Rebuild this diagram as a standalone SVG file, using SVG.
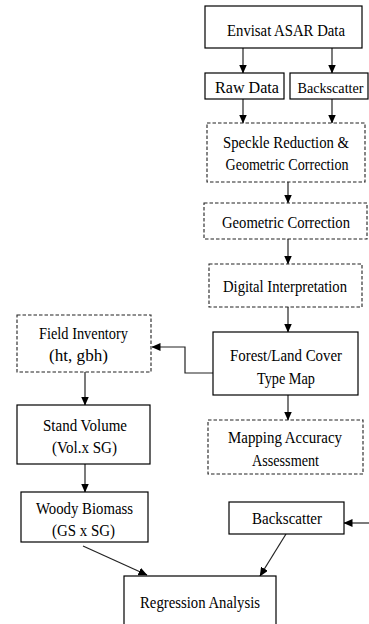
<svg xmlns="http://www.w3.org/2000/svg" width="369" height="624" viewBox="0 0 369 624">
<style>
.box{fill:#fff;stroke:#000;stroke-width:1.2}
.dash{fill:#fff;stroke:#222;stroke-width:1.1;stroke-dasharray:3.5 2}
text{font-family:"Liberation Serif","Times New Roman",serif;font-size:16.5px;fill:#000;text-anchor:middle}
.c{fill:none;stroke:#222;stroke-width:1.2;marker-end:url(#ah)}
</style>
<defs>
<marker id="ah" markerUnits="userSpaceOnUse" markerWidth="9" markerHeight="8" refX="8.5" refY="4" orient="auto">
<path d="M0,0 L9,4 L0,8 Z" fill="#000"/>
</marker>
</defs>
<rect x="0" y="0" width="369" height="624" fill="#fff"/>
<g id="connectors">
<line class="c" x1="243" y1="48" x2="243" y2="73"/>
<line class="c" x1="332" y1="48" x2="332" y2="73"/>
<line class="c" x1="243" y1="99" x2="243" y2="123"/>
<line class="c" x1="332" y1="99" x2="332" y2="123"/>
<line class="c" x1="288" y1="182" x2="288" y2="203"/>
<line class="c" x1="288" y1="239" x2="288" y2="264"/>
<line class="c" x1="288" y1="307" x2="288" y2="332"/>
<polyline class="c" points="213,373 185,373 185,347 152,347"/>
<line class="c" x1="85" y1="372" x2="85" y2="405"/>
<line class="c" x1="288" y1="395" x2="288" y2="420"/>
<line class="c" x1="85" y1="464" x2="85" y2="492"/>
<line class="c" x1="83" y1="546" x2="147" y2="575"/>
<line class="c" x1="286" y1="534" x2="260" y2="576"/>
<line class="c" x1="369" y1="523" x2="344" y2="523"/>
</g>
<g id="envisat">
<rect class="box" x="205" y="6" width="157" height="42"/>
<text x="286" y="36" textLength="118" lengthAdjust="spacingAndGlyphs">Envisat ASAR Data</text>
</g>
<g id="raw">
<rect class="box" x="205" y="73" width="79" height="26"/>
<text x="247" y="93" textLength="64" lengthAdjust="spacingAndGlyphs">Raw Data</text>
</g>
<g id="backscatter1">
<rect class="box" x="290" y="73" width="78" height="26"/>
<text x="330.5" y="93" textLength="66" lengthAdjust="spacingAndGlyphs" style="font-size:15.5px">Backscatter</text>
</g>
<g id="speckle">
<rect class="dash" x="207" y="123" width="158" height="59"/>
<text x="286" y="148" textLength="126" lengthAdjust="spacingAndGlyphs">Speckle Reduction &amp;</text>
<text x="287" y="170" textLength="123" lengthAdjust="spacingAndGlyphs">Geometric Correction</text>
</g>
<g id="geometric">
<rect class="dash" x="204" y="203" width="163" height="36"/>
<text x="286" y="228" textLength="128" lengthAdjust="spacingAndGlyphs">Geometric Correction</text>
</g>
<g id="digital">
<rect class="dash" x="209" y="264" width="153" height="43"/>
<text x="285" y="292" textLength="124" lengthAdjust="spacingAndGlyphs">Digital Interpretation</text>
</g>
<g id="forest">
<rect class="box" x="213" y="332" width="145" height="63"/>
<text x="286" y="361" textLength="112" lengthAdjust="spacingAndGlyphs">Forest/Land Cover</text>
<text x="286" y="384" textLength="58" lengthAdjust="spacingAndGlyphs">Type Map</text>
</g>
<g id="field">
<rect class="dash" x="17" y="315" width="134" height="57"/>
<text x="83.5" y="339" textLength="89" lengthAdjust="spacingAndGlyphs">Field Inventory</text>
<text x="78.5" y="361" textLength="59" lengthAdjust="spacingAndGlyphs">(ht, gbh)</text>
</g>
<g id="stand">
<rect class="box" x="17" y="405" width="133" height="59"/>
<text x="85" y="431" textLength="84" lengthAdjust="spacingAndGlyphs">Stand Volume</text>
<text x="84.5" y="453" textLength="65" lengthAdjust="spacingAndGlyphs">(Vol.x SG)</text>
</g>
<g id="mapping">
<rect class="dash" x="208" y="420" width="155" height="54"/>
<text x="285" y="443" textLength="114" lengthAdjust="spacingAndGlyphs">Mapping Accuracy</text>
<text x="285.5" y="466" textLength="67" lengthAdjust="spacingAndGlyphs">Assessment</text>
</g>
<g id="woody">
<rect class="box" x="21" y="492" width="127" height="50"/>
<text x="84.5" y="514" textLength="97" lengthAdjust="spacingAndGlyphs">Woody Biomass</text>
<text x="83.5" y="536" textLength="63" lengthAdjust="spacingAndGlyphs">(GS x SG)</text>
</g>
<g id="backscatter2">
<rect class="box" x="229" y="502" width="115" height="32"/>
<text x="287" y="524" textLength="70" lengthAdjust="spacingAndGlyphs">Backscatter</text>
</g>
<g id="regression">
<rect class="box" x="124" y="576" width="152" height="60"/>
<text x="200" y="608" textLength="120" lengthAdjust="spacingAndGlyphs">Regression Analysis</text>
</g>
</svg>
